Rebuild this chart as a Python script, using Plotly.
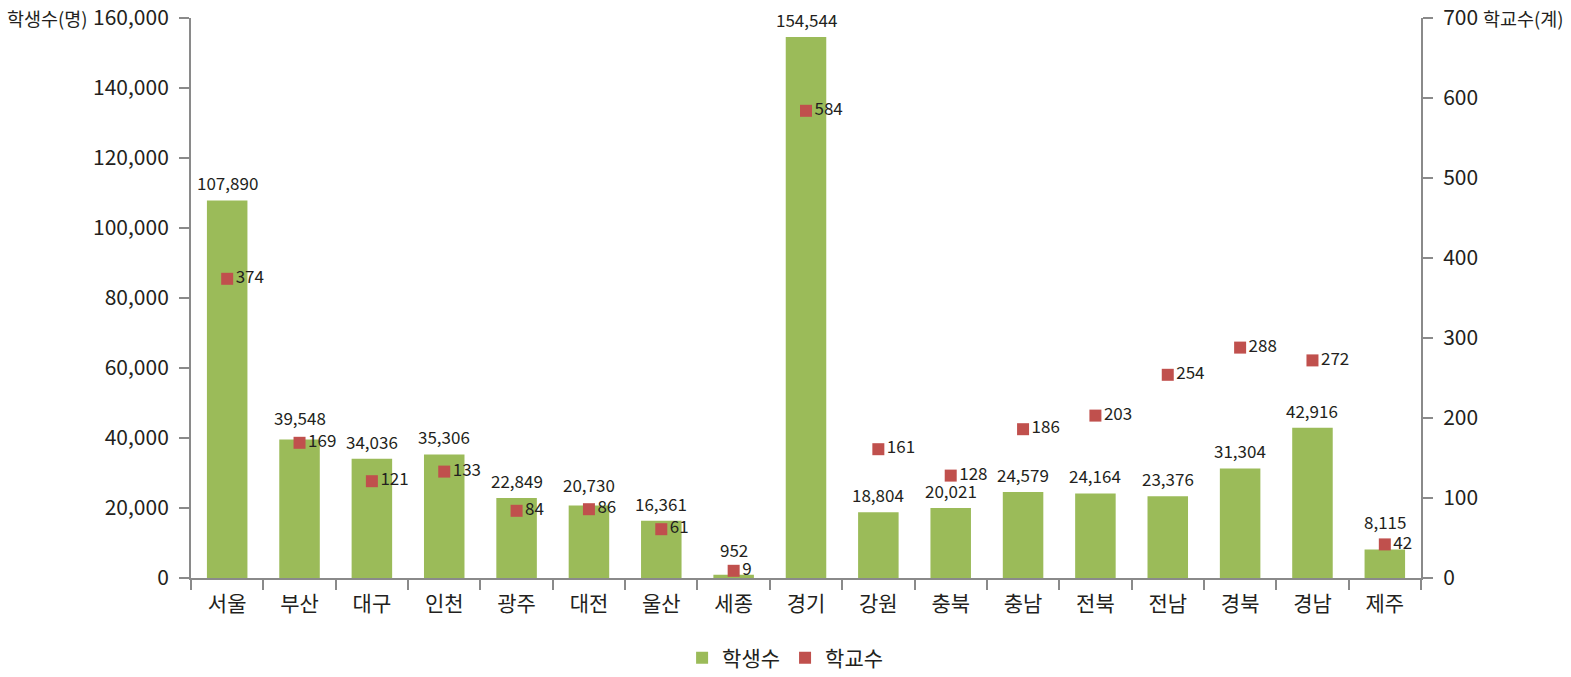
import plotly.graph_objects as go

regions = ["서울", "부산", "대구", "인천", "광주", "대전", "울산", "세종", "경기",
           "강원", "충북", "충남", "전북", "전남", "경북", "경남", "제주"]
students = [107890, 39548, 34036, 35306, 22849, 20730, 16361, 952, 154544,
            18804, 20021, 24579, 24164, 23376, 31304, 42916, 8115]
schools = [374, 169, 121, 133, 84, 86, 61, 9, 584, 161, 128, 186, 203, 254, 288, 272, 42]
# extra lift (px) of a few bar labels so they clear the school markers
label_lift = {"부산": 5, "대전": 3, "세종": 8, "제주": 11}

FONT = "Noto Sans CJK KR"
GREEN = "#9BBB59"
RED = "#C0504D"
AXIS = "#8a8a8a"
TXT = "#231f20"

fig = go.Figure()
fig.add_trace(go.Bar(
    x=regions, y=students, name="학생수",
    marker=dict(color=GREEN, line=dict(width=0)),
    width=0.56,
))
fig.add_trace(go.Scatter(
    x=regions, y=schools, name="학교수", yaxis="y2", mode="markers+text",
    marker=dict(symbol="square", size=12, color=RED),
    text=[str(v) for v in schools], textposition="middle right",
    textfont=dict(size=17, color=TXT, family=FONT),
    cliponaxis=False,
))

annotations = []
for r, v in zip(regions, students):
    annotations.append(dict(
        x=r, y=v, xref="x", yref="y", text=f"{v:,}", showarrow=False,
        xanchor="center", yanchor="bottom", yshift=3 + label_lift.get(r, 0),
        font=dict(size=17, color=TXT, family=FONT),
    ))
annotations += [
    dict(text="학생수(명)", xref="paper", yref="paper", x=0, y=1,
         xanchor="right", yanchor="middle", xshift=-101, showarrow=False,
         font=dict(size=18.5)),
    dict(text="학교수(계)", xref="paper", yref="paper", x=1, y=1,
         xanchor="left", yanchor="middle", xshift=60, showarrow=False,
         font=dict(size=18.5)),
]

fig.update_layout(
    template="none",
    width=1571, height=677,
    margin=dict(l=191, r=150, t=18, b=99, autoexpand=False),
    paper_bgcolor="white", plot_bgcolor="white",
    font=dict(family=FONT, color=TXT, size=20),
    xaxis=dict(
        type="category", tickson="boundaries", ticks="outside", ticklen=10,
        tickcolor=AXIS, tickwidth=2, showline=True, linecolor=AXIS, linewidth=2,
        showgrid=False, tickfont=dict(size=21), range=[-0.5, 16.5],
        automargin=False, ticklabelstandoff=6,
    ),
    yaxis=dict(
        range=[0, 160000], dtick=20000, tickformat=",", ticks="outside",
        ticklen=10, tickcolor=AXIS, tickwidth=2, showline=True, linecolor=AXIS,
        linewidth=2, showgrid=False, zeroline=False, tickfont=dict(size=21),
        automargin=False, ticklabelstandoff=6,
    ),
    yaxis2=dict(
        range=[0, 700], dtick=100, overlaying="y", side="right", ticks="outside",
        ticklen=10, tickcolor=AXIS, tickwidth=2, showline=True, linecolor=AXIS,
        linewidth=2, showgrid=False, zeroline=False, tickfont=dict(size=21),
        automargin=False, ticklabelstandoff=6,
    ),
    legend=dict(
        orientation="h", x=0.483, xanchor="center", y=-0.143, yanchor="middle",
        font=dict(size=21), itemsizing="constant", bgcolor="rgba(0,0,0,0)",
    ),
    showlegend=True,
    annotations=annotations,
)

fig.write_html("out.html")
